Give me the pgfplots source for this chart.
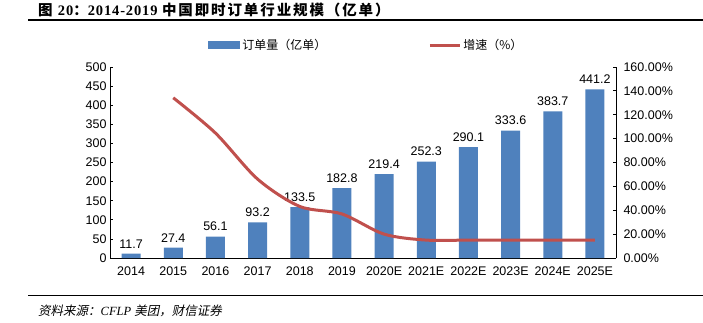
\documentclass[border=0pt]{standalone}
\usepackage{pgfplots}
\pgfplotsset{compat=1.18}
\usepackage{fontspec}
\setmainfont{Liberation Sans}
\newfontfamily\cjk{Noto Sans CJK SC}
\newfontfamily\cjkt[LetterSpace=13]{Noto Sans CJK SC}
\newfontfamily\serifb{Liberation Serif}
\newfontfamily\serift[LetterSpace=6]{Liberation Serif}
\newfontfamily\cjki[FakeSlant=0.2]{Noto Sans CJK SC}
\definecolor{barblue}{RGB}{79,129,189}
\definecolor{linered}{RGB}{192,80,77}
\pgfplotsset{/pgf/number format/assume math mode=true}
\begin{document}
\begin{tikzpicture}[x=1pt,y=1pt]
\useasboundingbox (0,0) rectangle (703,322);
\node[anchor=base west, inner sep=0, font=\fontsize{14.5}{16}\selectfont\bfseries] at (38,306) {\cjkt 图 \serift 20\cjkt ：\serift 2014-2019 \cjkt 中国即时订单行业规模（亿单）};
\draw[line width=1.5pt] (28,302) -- (703,302);
\draw[line width=0.8pt] (28,27) -- (703,27);
\node[anchor=base west, inner sep=0, font=\fontsize{12.5}{15}\selectfont] at (38,7) {\cjki 资料来源：\serifb\itshape CFLP \cjki 美团，财信证券};

\begin{axis}[
  at={(110pt,64pt)}, anchor=south west,
  width=506pt, height=191pt, scale only axis,
  xmin=-0.5, xmax=11.5, ymin=0, ymax=500,
  ytick={0,50,...,500},
  xtick={0,...,11},
  xticklabels={2014,2015,2016,2017,2018,2019,2020E,2021E,2022E,2023E,2024E,2025E},
  minor xtick={-0.5,0.5,...,11.5},
  x tick style={draw=none},
  minor x tick style={yshift=-3pt, black, line width=0.8pt},
  minor tick length=3pt,
  major tick length=3pt,
  tick align=inside,
  y tick style={black, line width=0.8pt},
  axis x line*=bottom, axis y line*=left,
  axis line style={line width=0.9pt, black, -},
  ticklabel style={font=\fontsize{12.5}{14}\selectfont},
  x tick label style={yshift=-2pt},
  ybar, bar width=19pt,
  nodes near coords,
  nodes near coords style={font=\fontsize{12.5}{14}\selectfont, yshift=2pt},
  legend style={draw=none, fill=none, at={(0.188,1.115)}, anchor=west,
    legend columns=2, font=\cjk\fontsize{12}{14}\selectfont,
    /tikz/every even column/.append style={column sep=100pt}},
]
\addplot[fill=barblue, draw=none,
  legend image code/.code={\fill[barblue] (0pt,-4pt) rectangle (32pt,4pt);}]
  coordinates {(0,11.7) (1,27.4) (2,56.1) (3,93.2) (4,133.5) (5,182.8) (6,219.4) (7,252.3) (8,290.1) (9,333.6) (10,383.7) (11,441.2)};
\addlegendentry{订单量（亿单）}
\addlegendimage{legend image code/.code={\draw[linered, line width=3pt] (0pt,0pt) -- (30pt,0pt);}}
\addlegendentry{增速（\%）}
\end{axis}

\begin{axis}[
  at={(110pt,64pt)}, anchor=south west,
  width=506pt, height=191pt, scale only axis,
  xmin=-0.5, xmax=11.5, ymin=0, ymax=160,
  ytick={0,20,...,160},
  yticklabel={\pgfmathprintnumber[fixed,fixed zerofill,precision=2]{\tick}\%},
  hide x axis,
  axis y line*=right,
  axis line style={line width=0.9pt, black, -},
  tick align=inside, major tick length=3pt,
  y tick style={black, line width=0.8pt},
  ticklabel style={font=\fontsize{12.5}{14}\selectfont},
  y tick label style={xshift=4pt},
]
\addplot[linered, line width=3pt, smooth, tension=0.5, mark=none]
  coordinates {(1,134.2) (2,104.7) (3,66.1) (4,43.2) (5,36.9) (6,20.0) (7,15.0) (8,15.0) (9,15.0) (10,15.0) (11,15.0)};
\end{axis}
\end{tikzpicture}
\end{document}
